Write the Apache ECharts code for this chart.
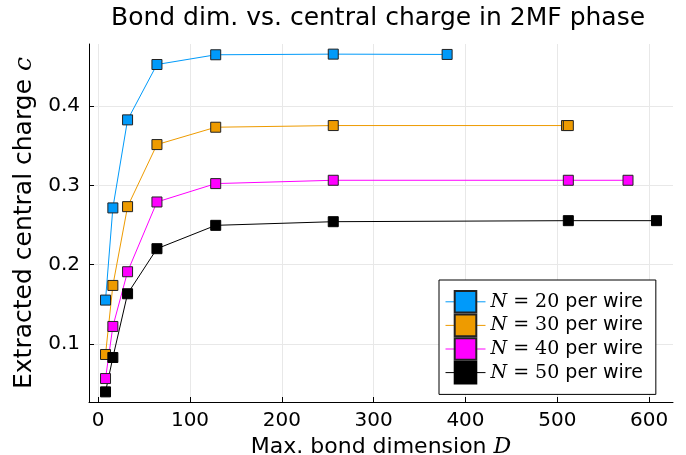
<!DOCTYPE html>
<html>
<head>
<meta charset="utf-8">
<script src="https://cdn.jsdelivr.net/npm/echarts@6/dist/echarts.min.js"></script>
<style>
  html, body { margin: 0; padding: 0; background: #fff; }
  #chart { width: 686px; height: 455px; }
</style>
</head>
<body>
<div id="chart"></div>
<script>
// Extracted central charge c versus maximum bond dimension D, per wire size N
const bondDimsN20 = [8, 16, 32, 64, 128, 256, 380];
const chargeN20   = [0.1552, 0.2716, 0.3828, 0.4527, 0.4650, 0.4658, 0.4654];

const bondDimsN30 = [8, 16, 32, 64, 128, 256, 510, 512];
const chargeN30   = [0.0865, 0.1737, 0.2732, 0.3516, 0.3735, 0.3756, 0.3756, 0.3756];

const bondDimsN40 = [8, 16, 32, 64, 128, 256, 512, 577];
const chargeN40   = [0.0561, 0.1219, 0.1910, 0.2791, 0.3023, 0.3065, 0.3065, 0.3065];

const bondDimsN50 = [8, 16, 32, 64, 128, 256, 512, 608];
const chargeN50   = [0.0393, 0.0827, 0.1632, 0.2201, 0.2496, 0.2542, 0.2555, 0.2555];

const wireSizes = [20, 30, 40, 50];
const seriesColors = ['#009AFA', '#EE9B00', '#FF00FF', '#000000'];

const xTicks = [0, 100, 200, 300, 400, 500, 600];
const yTicks = [0.1, 0.2, 0.3, 0.4];

const sans = 'DejaVu Sans';
const serif = 'DejaVu Serif';

const dims = [bondDimsN20, bondDimsN30, bondDimsN40, bondDimsN50];
const charges = [chargeN20, chargeN30, chargeN40, chargeN50];

function pairs(xs, ys) {
  return xs.map((x, i) => [x, ys[i]]);
}

const series = wireSizes.map((n, k) => ({
  name: 'N = ' + n + ' per wire',
  type: 'line',
  data: pairs(dims[k], charges[k]),
  symbol: 'rect',
  symbolSize: 10,
  showAllSymbol: true,
  animation: false,
  lineStyle: { color: seriesColors[k], width: 1 },
  itemStyle: {
    color: seriesColors[k],
    borderColor: k === 3 ? '#000' : '#222',
    borderWidth: 1
  },
  emphasis: { disabled: true }
}));

const chart = echarts.init(document.getElementById('chart'), null, { renderer: 'canvas' });

chart.setOption({
  backgroundColor: '#fff',
  animation: false,
  title: {
    text: 'Bond dim. vs. central charge in 2MF phase',
    left: 111,
    top: 6,
    padding: 0,
    textStyle: { fontFamily: sans, fontSize: 25, fontWeight: 'normal', color: '#000' }
  },
  grid: {
    left: 89, top: 44, right: 13, bottom: 53,
    containLabel: false,
    outerBoundsMode: 'none'
  },
  legend: {
    orient: 'vertical',
    left: 439,
    top: 280,
    padding: [10, 13, 10, 6],
    itemWidth: 40,
    itemHeight: 27,
    itemGap: 0,
    backgroundColor: '#fff',
    borderColor: '#000',
    borderWidth: 1,
    borderRadius: 0,
    selectedMode: false,
    lineStyle: { width: 1 },
    formatter: function (name) {
      const n = name.match(/\d+/)[0];
      return '{m|N} {e|= ' + n + '} {t|per wire}';
    },
    textStyle: {
      color: '#000',
      fontFamily: sans,
      fontSize: 19,
      lineHeight: 22,
      rich: {
        m: { fontFamily: serif, fontStyle: 'italic', fontSize: 19, lineHeight: 22, color: '#000' },
        e: { fontFamily: serif, fontSize: 19, lineHeight: 22, color: '#000' },
        t: { fontFamily: sans, fontSize: 19, lineHeight: 22, color: '#000' }
      }
    }
  },
  xAxis: {
    type: 'value',
    min: -10,
    max: 626,
    name: 'Max. bond dimension {i|D}',
    nameLocation: 'middle',
    nameGap: 25,
    nameTextStyle: {
      fontFamily: sans, fontSize: 22, color: '#000',
      rich: { i: { fontFamily: serif, fontStyle: 'italic', fontSize: 22, color: '#000' } }
    },
    axisLine: { show: true, onZero: false, lineStyle: { color: '#000', width: 1 } },
    axisTick: { show: true, inside: true, length: 5, customValues: xTicks, lineStyle: { color: '#000' } },
    axisLabel: { customValues: xTicks, fontFamily: sans, fontSize: 20, color: '#000', margin: 9 },
    splitLine: { show: true, lineStyle: { color: '#e8e8e8', width: 1 } }
  },
  yAxis: {
    type: 'value',
    min: 0.0265,
    max: 0.4786,
    name: 'Extracted central charge {i|c}',
    nameLocation: 'middle',
    nameGap: 46,
    nameTextStyle: {
      fontFamily: sans, fontSize: 25, color: '#000',
      rich: { i: { fontFamily: serif, fontStyle: 'italic', fontSize: 25, color: '#000' } }
    },
    axisLine: { show: true, onZero: false, lineStyle: { color: '#000', width: 1 } },
    axisTick: { show: true, inside: true, length: 5, customValues: yTicks, lineStyle: { color: '#000' } },
    axisLabel: {
      customValues: yTicks, fontFamily: sans, fontSize: 20, color: '#000', margin: 9,
      formatter: v => v.toFixed(1)
    },
    splitLine: { show: true, lineStyle: { color: '#e8e8e8', width: 1 } }
  },
  series: series
});
</script>
</body>
</html>
